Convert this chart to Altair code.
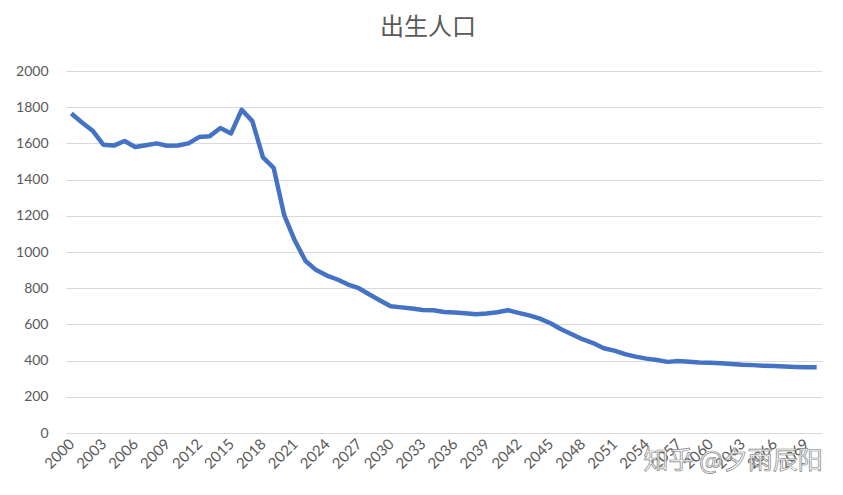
import altair as alt
import pandas as pd

years = list(range(2000, 2071))
births = [
    1765, 1715, 1670, 1593, 1588, 1613, 1580, 1590, 1600, 1587,
    1588, 1600, 1635, 1640, 1685, 1655, 1786, 1723, 1523, 1465,
    1202, 1062, 950, 900, 870, 848, 820, 800, 765, 732,
    700, 694, 688, 680, 678, 669, 666, 661, 656, 660,
    667, 678, 664, 650, 632, 606, 573, 546, 518, 497,
    468, 455, 436, 422, 411, 403, 393, 398, 394, 390,
    388, 385, 381, 377, 375, 372, 370, 368, 365, 363,
    363,
]
tick_years = list(range(2000, 2071, 3))
y_ticks = list(range(0, 2001, 200))
title_text = "出生人口"
watermark = "知乎 @夕雨辰阳"

df = pd.DataFrame({"year": years, "births": births})

font = "Lato"
grey = "#595959"

line = alt.Chart(df).mark_line(color="#4472C4", strokeWidth=4.5, strokeJoin="round").encode(
    x=alt.X(
        "year:O",
        scale=alt.Scale(type="point", padding=0.5),
        axis=alt.Axis(
            title=None,
            values=tick_years,
            labelAngle=-45,
            labelAlign="right",
            labelBaseline="middle",
            labelFont=font,
            labelFontSize=15,
            labelColor=grey,
            labelPadding=8,
            ticks=False,
            domain=False,
            grid=False,
            labelOverlap=False,
        ),
    ),
    y=alt.Y(
        "births:Q",
        scale=alt.Scale(domain=[0, 2000], nice=False),
        axis=alt.Axis(
            title=None,
            values=y_ticks,
            format="d",
            labelFont=font,
            labelFontSize=14,
            labelColor=grey,
            labelPadding=18,
            ticks=False,
            tickSize=0,
            domain=False,
            grid=True,
            gridColor="#d9d9d9",
            gridWidth=1,
        ),
    ),
)

wm = alt.Chart(pd.DataFrame({"t": [watermark]})).mark_text(
    font="Noto Sans CJK SC",
    fontSize=25,
    fill="white",
    fillOpacity=0.85,
    stroke="#7f7f7f",
    strokeWidth=0.7,
    align="center",
    baseline="middle",
).encode(
    text="t:N",
    x=alt.value(667),
    y=alt.value(390),
)

chart = (
    alt.layer(line, wm)
    .properties(
        width=756,
        height=362,
        autosize=alt.AutoSizeParams(type="none"),
        padding={"left": 58, "top": 63, "right": 12, "bottom": 53},
        title=alt.TitleParams(
            text=title_text,
            font="Noto Sans CJK SC",
            fontSize=24,
            fontWeight="normal",
            color=grey,
            anchor="middle",
            frame="group",
            dx=-16,
            offset=24,
        ),
    )
    .configure_view(stroke=None)
)

chart.save("out.html", embed_options={"renderer": "svg", "actions": False})
